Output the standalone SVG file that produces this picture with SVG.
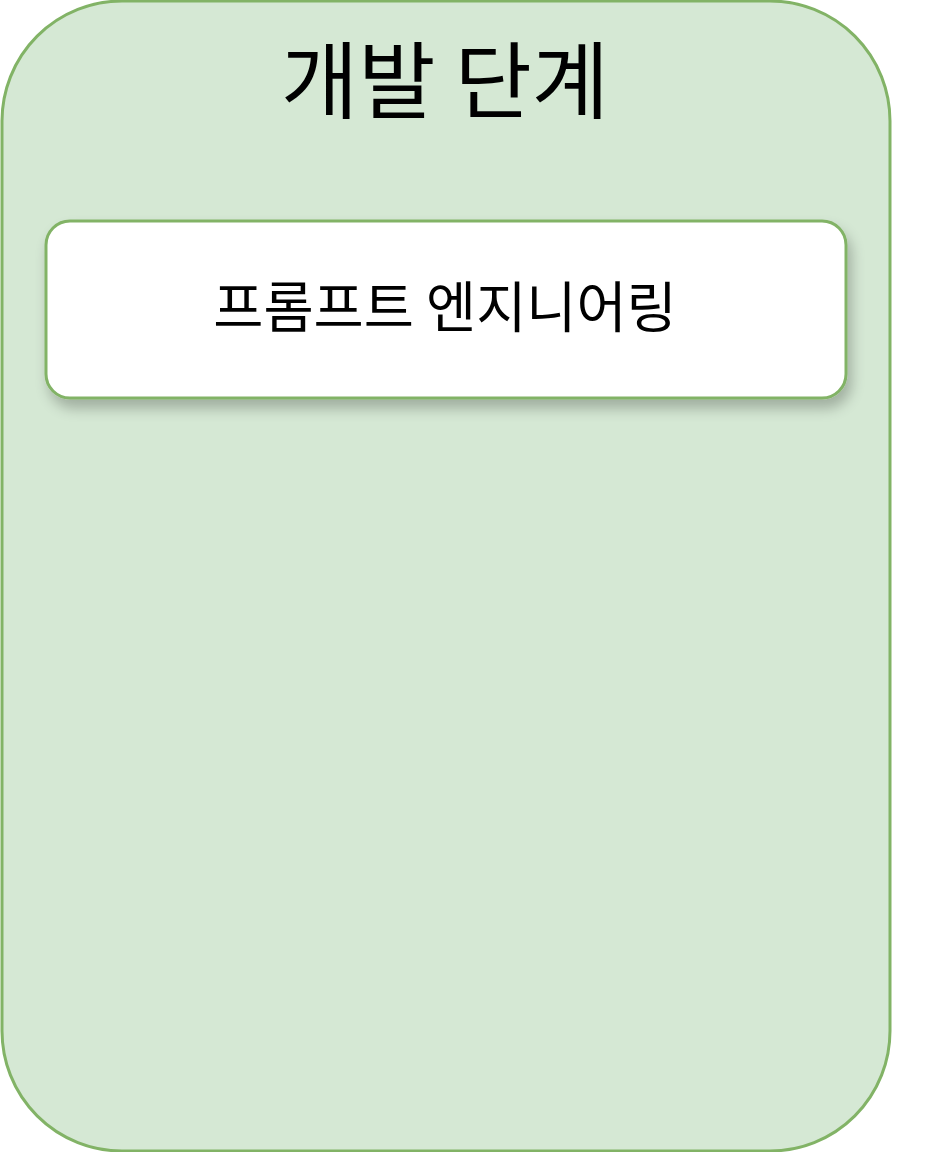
<svg xmlns="http://www.w3.org/2000/svg" width="928" height="1152" viewBox="0 0 928 1152">
<defs>
<style>
.container{fill:#d5e8d4;stroke:#82b366;stroke-width:3}
.node{fill:#ffffff;stroke:#82b366;stroke-width:3}
.t{font-family:"Noto Sans CJK KR","Noto Sans",sans-serif;fill:#000;text-anchor:middle}
</style>
<filter id="sh" x="-10%" y="-20%" width="120%" height="160%">
<feGaussianBlur in="SourceAlpha" stdDeviation="7"/>
<feOffset dx="4" dy="9" result="b"/>
<feComponentTransfer><feFuncA type="linear" slope="0.25"/></feComponentTransfer>
<feMerge><feMergeNode/><feMergeNode in="SourceGraphic"/></feMerge>
</filter>
</defs>
<rect width="928" height="1152" fill="#ffffff"/>
<g id="dev-stage">
<rect class="container" x="2" y="1" width="888" height="1150" rx="120" ry="120"/>
<text class="t" x="445" y="112" font-size="84">개발 단계</text>
</g>
<g id="prompt-engineering">
<rect class="node" x="46" y="221" width="800" height="177" rx="24" ry="24" filter="url(#sh)"/>
<text class="t" x="445" y="327" font-size="54.5">프롬프트 엔지니어링</text>
</g>
<g id="connectors"/>
</svg>
